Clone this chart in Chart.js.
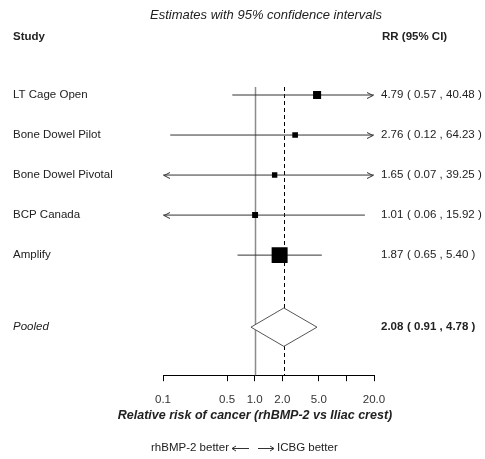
<!DOCTYPE html>
<html>
<head>
<meta charset="utf-8">
<title>Forest plot</title>
<script src="https://cdn.jsdelivr.net/npm/chart.js@4.4.1/dist/chart.umd.min.js"></script>
<style>
  html, body { margin: 0; padding: 0; background: #fff; }
</style>
</head>
<body>
<canvas id="forest" width="485" height="459"></canvas>
<script>
const studies = ["LT Cage Open", "Bone Dowel Pilot", "Bone Dowel Pivotal", "BCP Canada", "Amplify"]
const rr = [4.79, 2.76, 1.65, 1.01, 1.87]
const ciLow = [0.57, 0.12, 0.07, 0.06, 0.65]
const ciHigh = [40.48, 64.23, 39.25, 15.92, 5.40]

const pooledLabel = "Pooled"
const pooledRR = 2.08
const pooledLow = 0.91
const pooledHigh = 4.78

const tickValues = [0.1, 0.5, 1, 2, 5, 10, 20]
const tickLabels = ["0.1", "0.5", "1.0", "2.0", "5.0", "", "20.0"]

const FONT = "'Liberation Sans', Arial, sans-serif"
const TEXT = "#222"

// study rows sit at 1..n, pooled row a bit lower
const pooledRow = studies.length + 1.8
const diamondHalf = 0.48

const ciDatasets = studies.map((name, i) => ({
  type: "line",
  label: name,
  data: [{ x: ciLow[i], y: i + 1 }, { x: ciHigh[i], y: i + 1 }],
  borderColor: "#333",
  borderWidth: 1,
  pointRadius: 0,
  fill: false,
  order: 1,
}))

const fmt = (v) => v.toFixed(2)

const forestDecor = {
  id: "forestDecor",
  beforeDatasetsDraw(chart) {
    const { ctx, chartArea, scales } = chart
    const x = scales.x
    ctx.save()
    // no-effect line
    const x1 = Math.round(x.getPixelForValue(1)) + 0.5
    ctx.strokeStyle = "#8c8c8c"
    ctx.lineWidth = 1.5
    ctx.beginPath()
    ctx.moveTo(x1, chartArea.top)
    ctx.lineTo(x1, chartArea.bottom)
    ctx.stroke()
    // pooled estimate line
    const xp = Math.round(x.getPixelForValue(pooledRR)) + 0.5
    ctx.strokeStyle = "#000"
    ctx.lineWidth = 1
    ctx.setLineDash([4, 3])
    ctx.beginPath()
    ctx.moveTo(xp, chartArea.top)
    ctx.lineTo(xp, chartArea.bottom)
    ctx.stroke()
    ctx.restore()
  },
  afterDatasetsDraw(chart) {
    const { ctx, chartArea, scales } = chart
    const x = scales.x
    const y = scales.y
    ctx.save()

    // arrows where the interval runs off the axis
    ctx.strokeStyle = "#333"
    ctx.lineWidth = 1
    studies.forEach((s, i) => {
      const py = Math.round(y.getPixelForValue(i + 1)) + 0.5
      if (ciLow[i] < x.min) {
        const tip = chartArea.left + 1
        ctx.beginPath()
        ctx.moveTo(tip + 6, py - 3)
        ctx.lineTo(tip, py)
        ctx.lineTo(tip + 6, py + 3)
        ctx.stroke()
      }
      if (ciHigh[i] > x.max) {
        const tip = chartArea.right - 1
        ctx.beginPath()
        ctx.moveTo(tip - 6, py - 3)
        ctx.lineTo(tip, py)
        ctx.lineTo(tip - 6, py + 3)
        ctx.stroke()
      }
    })

    ctx.fillStyle = TEXT
    ctx.textBaseline = "middle"

    ctx.textAlign = "center"
    ctx.font = "italic 13px " + FONT
    ctx.fillText("Estimates with 95% confidence intervals", 266, 15)

    ctx.textAlign = "left"
    ctx.font = "bold 11.5px " + FONT
    ctx.fillText("Study", 13, 37)
    ctx.fillText("RR (95% CI)", 382, 37)

    ctx.font = "11.5px " + FONT
    studies.forEach((s, i) => {
      const py = y.getPixelForValue(i + 1)
      ctx.fillText(s, 13, py)
      ctx.fillText(fmt(rr[i]), 381, py)
      ctx.fillText("( " + fmt(ciLow[i]) + " , " + fmt(ciHigh[i]) + " )", 407, py)
    })

    const pp = y.getPixelForValue(pooledRow)
    ctx.font = "italic 11.5px " + FONT
    ctx.fillText(pooledLabel, 13, pp)
    ctx.font = "bold 11.5px " + FONT
    ctx.fillText(fmt(pooledRR), 381, pp)
    ctx.fillText("( " + fmt(pooledLow) + " , " + fmt(pooledHigh) + " )", 407, pp)

    // axis caption
    ctx.textAlign = "center"
    ctx.font = "bold italic 12.5px " + FONT
    ctx.fillText("Relative risk of cancer (rhBMP-2 vs Iliac crest)", 255, 416)

    // direction note
    ctx.font = "11.5px " + FONT
    ctx.textAlign = "right"
    ctx.fillText("rhBMP-2 better", 229, 448)
    ctx.textAlign = "left"
    ctx.fillText("ICBG better", 277, 448)
    ctx.strokeStyle = "#333"
    ctx.beginPath()
    ctx.moveTo(249, 448.5)
    ctx.lineTo(232, 448.5)
    ctx.moveTo(236, 446)
    ctx.lineTo(232, 448.5)
    ctx.lineTo(236, 451)
    ctx.moveTo(258, 448.5)
    ctx.lineTo(274, 448.5)
    ctx.moveTo(270, 446)
    ctx.lineTo(274, 448.5)
    ctx.lineTo(270, 451)
    ctx.stroke()

    ctx.restore()
  },
}

new Chart(document.getElementById("forest"), {
  type: "scatter",
  data: {
    datasets: [
      {
        type: "scatter",
        label: "RR",
        data: rr.map((v, i) => ({ x: v, y: i + 1 })),
        pointStyle: "rect",
        pointRadius: [5.7, 4, 3.8, 4.2, 11.3],
        backgroundColor: "#000",
        borderWidth: 0,
        order: 0,
      },
      ...ciDatasets,
      {
        type: "line",
        label: pooledLabel,
        data: [
          { x: pooledLow, y: pooledRow },
          { x: pooledRR, y: pooledRow - diamondHalf },
          { x: pooledHigh, y: pooledRow },
          { x: pooledRR, y: pooledRow + diamondHalf },
          { x: pooledLow, y: pooledRow },
        ],
        borderColor: "#555",
        borderWidth: 1,
        backgroundColor: "#fff",
        fill: "shape",
        pointRadius: 0,
        tension: 0,
        order: 2,
      },
    ],
  },
  options: {
    responsive: false,
    animation: false,
    events: [],
    layout: {
      padding: { left: 163, right: 111, top: 87, bottom: 40 },
    },
    plugins: {
      legend: { display: false },
      tooltip: { enabled: false },
    },
    scales: {
      x: {
        type: "logarithmic",
        min: 0.1,
        max: 20,
        afterBuildTicks: (axis) => {
          axis.ticks = tickValues.map((v) => ({ value: v }))
        },
        ticks: {
          callback: (value, index) => tickLabels[index],
          autoSkip: false,
          maxRotation: 0,
          padding: 12,
          color: "#333",
          font: { family: FONT, size: 11.5 },
        },
        grid: {
          drawOnChartArea: false,
          drawTicks: true,
          tickLength: 6,
          color: "#000",
        },
        border: { display: true, color: "#000", width: 1 },
      },
      y: {
        type: "linear",
        min: 0.8,
        max: 8,
        reverse: true,
        display: false,
      },
    },
  },
  plugins: [forestDecor],
})
</script>
</body>
</html>
